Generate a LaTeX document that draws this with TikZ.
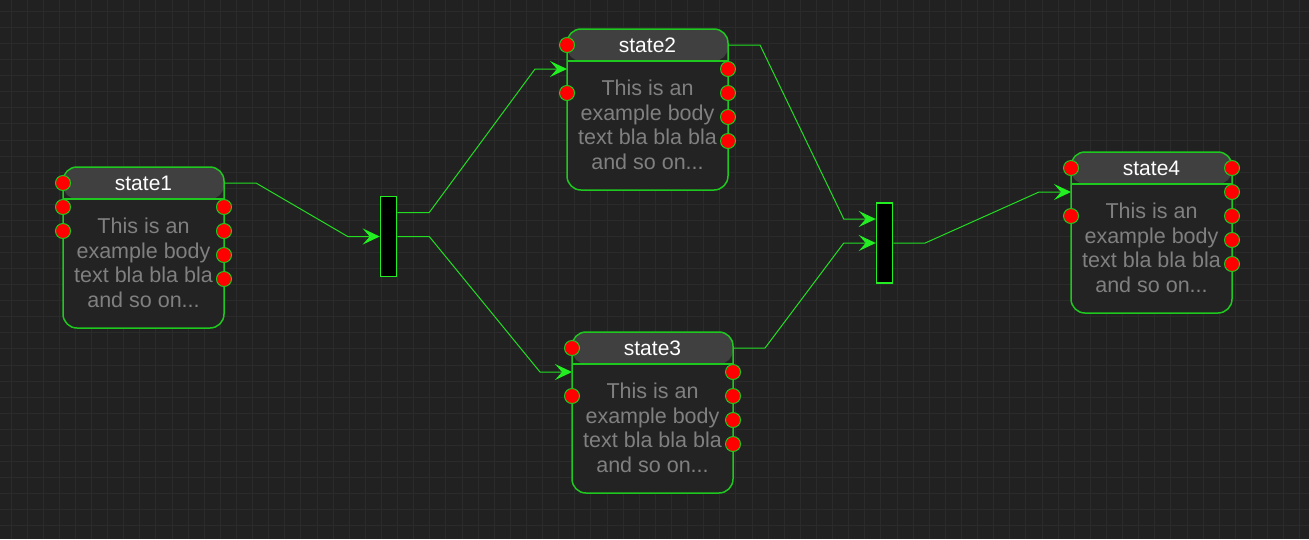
\documentclass[tikz,border=0pt]{standalone}
\usepackage{fontspec}
\setmainfont{Liberation Sans}
\usepackage{xcolor}
\usetikzlibrary{arrows.meta}
\definecolor{bgc}{HTML}{212121}
\definecolor{gridc}{HTML}{2B2B2B}
\definecolor{bodyc}{HTML}{232323}
\definecolor{headc}{HTML}{404040}
\definecolor{boxgreen}{HTML}{1EC81E}
\definecolor{wiregreen}{HTML}{22DD22}
\definecolor{tipgreen}{HTML}{22EE22}
\definecolor{bodytextc}{HTML}{808080}

\begin{document}
\begin{tikzpicture}[x=1pt, y=-1pt,
	state/.style={rectangle, rounded corners=14pt, draw=boxgreen, line width=1.5pt, fill=bodyc, minimum width=161pt, minimum height=161pt, inner sep=0pt,
		path picture={\fill[headc] (path picture bounding box.north west) rectangle ([yshift=-32pt]path picture bounding box.north east);
			\draw[boxgreen, line width=1.5pt] ([yshift=-32pt]path picture bounding box.north west) -- ([yshift=-32pt]path picture bounding box.north east);}},
	title/.style={text=white, font=\fontsize{21}{24}\selectfont, inner sep=0pt},
	bodytext/.style={text=bodytextc, font=\fontsize{21.5}{24.5}\selectfont, align=center, inner sep=0pt},
	port/.style={circle, fill=red, draw=boxgreen, line width=1pt, minimum size=15pt, inner sep=0pt},
	bar/.style={rectangle, fill=black, draw=tipgreen, line width=1.5pt, minimum width=16pt, minimum height=80pt, inner sep=0pt},
	wire/.style={draw=wiregreen, line width=1pt, -{Stealth[length=17pt, width=16pt, inset=7pt, color=tipgreen]},
		to path={-- ++(32,0) -- ([xshift=-32pt]\tikztotarget) -- (\tikztotarget)}}]
	% Background
	\useasboundingbox (0,0) rectangle (1309,539);
	\fill[bgc] (0,0) rectangle (1309,539);
	\foreach \i in {0,...,80} \draw[gridc, line width=1pt] ({11+16.11*\i},0) -- ({11+16.11*\i},539);
	\foreach \j in {0,...,32} \draw[gridc, line width=1pt] (0,{11.5+16.07*\j}) -- (1309,{11.5+16.07*\j});
	% States
	\node[state] (s1) at (143.5,247.5) {};
	\node[state] (s2) at (647.5,109.5) {};
	\node[state] (s3) at (652.5,412.5) {};
	\node[state] (s4) at (1151.5,232.5) {};
	\node[title] (s1t) at (143.5,183) {state1};
	\node[title] (s2t) at (647.5,45) {state2};
	\node[title] (s3t) at (652.5,348) {state3};
	\node[title] (s4t) at (1151.5,168) {state4};
	\node[bodytext] (s1b) at (143.5,263) {This is an\\example body\\text bla bla bla\\and so on...};
	\node[bodytext] (s2b) at (647.5,125) {This is an\\example body\\text bla bla bla\\and so on...};
	\node[bodytext] (s3b) at (652.5,428) {This is an\\example body\\text bla bla bla\\and so on...};
	\node[bodytext] (s4b) at (1151.5,248) {This is an\\example body\\text bla bla bla\\and so on...};
	% Bars
	\node[bar] (b1) at (388.5,236.5) {};
	\node[bar] (b2) at (884.5,243) {};
	% Ports
	\node[port] (s1l0) at (63,183) {};
	\node[port] (s1l1) at (63,207) {};
	\node[port] (s1l2) at (63,231) {};
	\node[port] (s1r1) at (224,207) {};
	\node[port] (s1r2) at (224,231) {};
	\node[port] (s1r3) at (224,255) {};
	\node[port] (s1r4) at (224,279) {};
	\node[port] (s2l0) at (567,45) {};
	\node[port] (s2l2) at (567,93) {};
	\node[port] (s2r1) at (728,69) {};
	\node[port] (s2r2) at (728,93) {};
	\node[port] (s2r3) at (728,117) {};
	\node[port] (s2r4) at (728,141) {};
	\node[port] (s3l0) at (572,348) {};
	\node[port] (s3l2) at (572,396) {};
	\node[port] (s3r1) at (733,372) {};
	\node[port] (s3r2) at (733,396) {};
	\node[port] (s3r3) at (733,420) {};
	\node[port] (s3r4) at (733,444) {};
	\node[port] (s4l0) at (1071,168) {};
	\node[port] (s4l2) at (1071,216) {};
	\node[port] (s4r0) at (1232,168) {};
	\node[port] (s4r1) at (1232,192) {};
	\node[port] (s4r2) at (1232,216) {};
	\node[port] (s4r3) at (1232,240) {};
	\node[port] (s4r4) at (1232,264) {};
	% Connection points
	\coordinate (s1r0) at (224,183);
	\coordinate (s2l1) at (567,69);
	\coordinate (s2r0) at (728,45);
	\coordinate (s3l1) at (572,372);
	\coordinate (s3r0) at (733,348);
	\coordinate (s4l1) at (1071,192);
	\coordinate (b1i) at (b1.west);
	\coordinate (b1o1) at ([yshift=24pt]b1.east);
	\coordinate (b1o2) at (b1.east);
	\coordinate (b2i1) at ([yshift=24pt]b2.west);
	\coordinate (b2i2) at (b2.west);
	\coordinate (b2o) at (b2.east);
	% Edges
	\draw[wire] (s1r0) to (b1i);
	\draw[wire] (b1o1) to (s2l1);
	\draw[wire] (b1o2) to (s3l1);
	\draw[wire] (s2r0) to (b2i1);
	\draw[wire] (s3r0) to (b2i2);
	\draw[wire] (b2o) to (s4l1);
\end{tikzpicture}
\end{document}
